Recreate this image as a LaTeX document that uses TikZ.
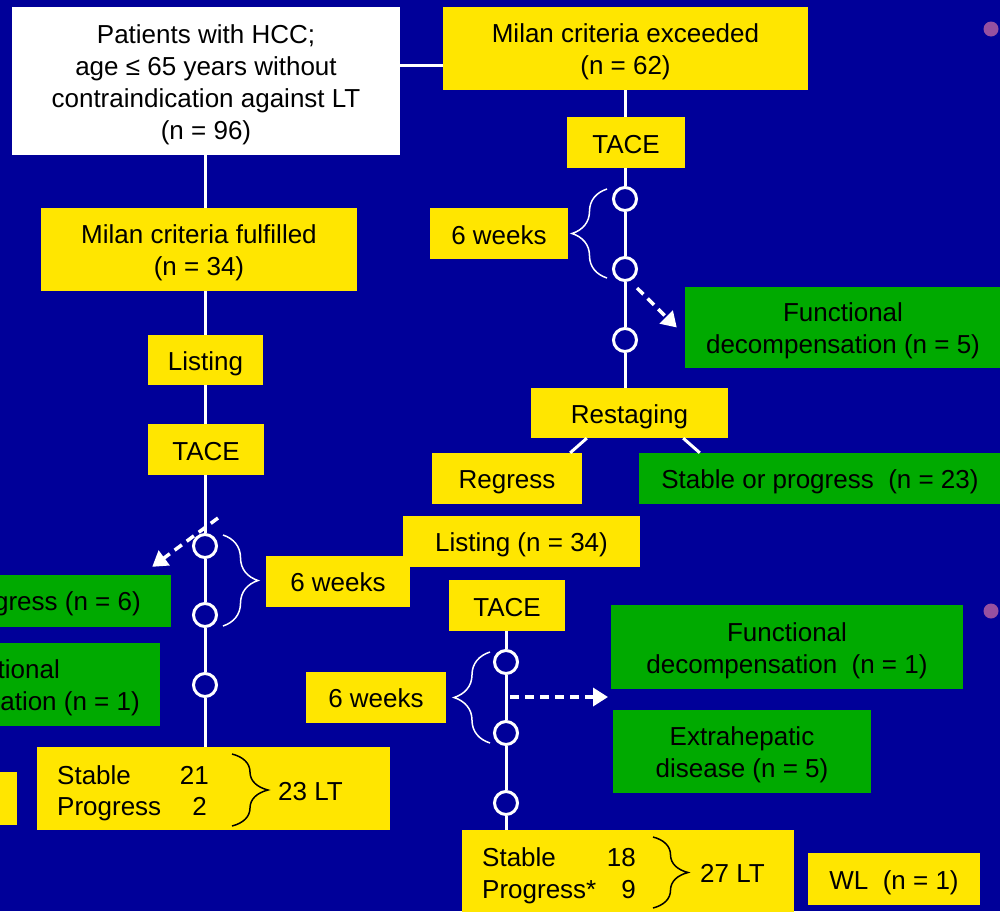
\documentclass[tikz,border=0pt]{standalone}
\usepackage{fontspec}
\setmainfont{Liberation Sans}
\usetikzlibrary{decorations.pathreplacing,arrows.meta}
\definecolor{bg}{RGB}{0,0,153}
\definecolor{ybox}{RGB}{255,230,0}
\definecolor{gbox}{RGB}{0,170,0}
\definecolor{dotc}{RGB}{150,80,160}
\newcommand\sr{\rule[-4.5pt]{0pt}{30.5pt}}
\begin{document}
\begin{tikzpicture}[x=1pt,y=-1pt,
  every node/.style={font=\fontsize{26}{32}\selectfont, text=black},
  sz/.style 2 args={minimum width=#1, minimum height=#2},
  ybx/.style={fill=ybox, inner sep=0pt, align=center},
  gbx/.style={fill=gbox, inner sep=0pt, align=center},
  wbx/.style={fill=white, inner sep=0pt, align=center},
  tl/.style={inner sep=0pt},
  conn/.style={draw=white, line width=3pt},
  ring/.style={circle, draw=white, line width=3pt, fill=bg, minimum size=23pt, inner sep=0pt},
  darr/.style={draw=white, line width=3.5pt, dash pattern=on 9pt off 6pt, -{Triangle[width=18pt,length=15pt]}},
  wbrace/.style={draw=white, line width=1.5pt, decorate, decoration={brace, amplitude=#1}},
  kbrace/.style={draw=black, line width=1.5pt, decorate, decoration={brace, amplitude=#1}},
  dotn/.style={circle, fill=dotc, minimum size=15pt, inner sep=0pt}
]
\useasboundingbox (0,0) rectangle (1000,911);
\clip (0,0) rectangle (1000,911);
\fill[bg] (0,0) rectangle (1000,911);

% ---- top boxes
\node[wbx, sz={388pt}{148pt}] (patients) at (206,81) {\sr Patients with HCC;\\\sr age ≤ 65 years without\\\sr contraindication against LT\\\sr (n = 96)};
\node[ybx, sz={365pt}{83pt}] (exceeded) at (625.5,48.5) {\sr Milan criteria exceeded\\\sr (n = 62)};

% ---- right column (Milan exceeded)
\node[ybx, sz={118pt}{51pt}] (taceR) at (626,142.5) {\sr TACE};
\node[ring] (c1) at (625,199) {};
\node[ring] (c2) at (625,269) {};
\node[ring] (c3) at (625,340) {};
\node[ybx, sz={138pt}{51pt}] (weeksR) at (499,233.5) {\sr 6 weeks};
\node[gbx, sz={316pt}{81pt}] (fdR) at (843,327.5) {\sr Functional\\\sr decompensation (n = 5)};
\node[ybx, sz={197pt}{50pt}] (restaging) at (629.5,413) {\sr Restaging};
\node[ybx, sz={150pt}{51pt}] (regress) at (507,478.5) {\sr Regress};
\node[gbx, sz={362pt}{51pt}] (stableR) at (820,478.5) {\sr Stable or progress\ \ (n = 23)};
\node[ybx, sz={237pt}{51pt}] (listingR) at (521.5,541.5) {\sr Listing (n = 34)};

% ---- second right column
\node[ybx, sz={116pt}{51pt}] (tace2) at (507,605.5) {\sr TACE};
\node[ring] (c4) at (506,662) {};
\node[ring] (c5) at (506,733) {};
\node[ring] (c6) at (506,803) {};
\node[ybx, sz={140pt}{51pt}] (weeks2) at (376,697) {\sr 6 weeks};
\node[gbx, sz={352pt}{84pt}] (fd2) at (787,647) {\sr Functional\\\sr decompensation\ \ (n = 1)};
\node[gbx, sz={258pt}{83pt}] (extra) at (742,751.5) {\sr Extrahepatic\\\sr disease (n = 5)};
\node[ybx, sz={332pt}{83pt}] (sp2) at (628,871.5) {};
\node[tl, anchor=base west] (sp2a) at (482,866) {Stable};
\node[tl, anchor=base east] (sp2b) at (636,866) {18};
\node[tl, anchor=base west] (sp2c) at (482,898) {Progress*};
\node[tl, anchor=base east] (sp2d) at (636,898) {9};
\node[tl, anchor=base west] (lt27) at (700,882) {27 LT};
\node[ybx, sz={172pt}{52pt}] (wl) at (894,879) {\sr WL\ \ (n = 1)};

% ---- left column (Milan fulfilled)
\node[ybx, sz={316pt}{83pt}] (fulfilled) at (199,249.5) {\sr Milan criteria fulfilled\\\sr (n = 34)};
\node[ybx, sz={115pt}{50pt}] (listingL) at (205.5,360) {\sr Listing};
\node[ybx, sz={116pt}{51pt}] (taceL) at (206,449.5) {\sr TACE};
\node[ring] (c7) at (205,546) {};
\node[ring] (c8) at (205,615) {};
\node[ring] (c9) at (205,685) {};
\node[ybx, sz={144pt}{51pt}] (weeksL) at (338,581) {\sr 6 weeks};
\node[gbx, sz={182pt}{52pt}] (gprog) at (80,601) {};
\node[tl, anchor=base east] (gprogt) at (141,610) {gress (n = 6)};
\node[gbx, sz={170pt}{83pt}] (gfunc) at (75,684.5) {};
\node[tl, anchor=base east] (gfunct1) at (60,678) {tional};
\node[tl, anchor=base east] (gfunct2) at (140,710) {ation (n = 1)};
\node[ybx, sz={22pt}{53pt}] (ysmall) at (6,798.5) {};
\node[ybx, sz={353pt}{83pt}] (sp1) at (213.5,788.5) {};
\node[tl, anchor=base west] (sp1a) at (57,784) {Stable};
\node[tl, anchor=base east] (sp1b) at (209,784) {21};
\node[tl, anchor=base west] (sp1c) at (57,815) {Progress};
\node[tl, anchor=base east] (sp1d) at (207,815) {2};
\node[tl, anchor=base west] (lt23) at (278,800) {23 LT};

% ---- dots
\node[dotn] (dot1) at (991,29) {};
\node[dotn] (dot2) at (991,611) {};

% ---- connectors
\draw[conn] ([yshift=16pt]patients.east) -- ([yshift=16pt]patients.east -| exceeded.west);
\draw[conn] (c1.north |- exceeded.south) -- (c1.north |- taceR.north);
\draw[conn] (c1.north |- taceR.south) -- (c1.north);
\draw[conn] (c1.south) -- (c2.north);
\draw[conn] (c2.south) -- (c3.north);
\draw[conn] (c3.south) -- (c3.south |- restaging.north);
\draw[conn] ([xshift=56pt]restaging.south west) -- ([xshift=-12pt]regress.north east);
\draw[conn] ([xshift=-45pt]restaging.south east) -- ([xshift=61pt]stableR.north west);

\draw[conn] (c4.north |- tace2.south) -- (c4.north);
\draw[conn] (c4.south) -- (c5.north);
\draw[conn] (c5.south) -- (c6.north);
\draw[conn] (c6.south) -- (c6.south |- sp2.north);

\draw[conn] (c7.north |- patients.south) -- (c7.north |- fulfilled.north);
\draw[conn] (c7.north |- fulfilled.south) -- (c7.north |- listingL.north);
\draw[conn] (c7.north |- listingL.south) -- (c7.north |- taceL.north);
\draw[conn] (c7.north |- taceL.south) -- (c7.north);
\draw[conn] (c7.south) -- (c8.north);
\draw[conn] (c8.south) -- (c9.north);
\draw[conn] (c9.south) -- (c9.south |- sp1.north);

% ---- dashed arrows
\coordinate (a1s) at (637,288);
\draw[darr] (a1s) -- ([xshift=-8pt]fdR.west);
\coordinate (a2s) at (218,518);
\draw[darr] (a2s) -- ([shift={(-19pt,8pt)}]gprog.north east);
\coordinate (a3s) at (510,697);
\coordinate (a3e) at (608,697);
\draw[darr] (a3s) -- (a3e);

% ---- braces
\draw[wbrace=35pt] (607,278) -- (607,189);
\draw[wbrace=35pt] (223,535) -- (223,626);
\draw[wbrace=36pt] (490,743) -- (490,652);
\draw[kbrace=36pt] (232,754) -- (232,826);
\draw[kbrace=35pt] (653,837) -- (653,908);
\end{tikzpicture}
\end{document}
